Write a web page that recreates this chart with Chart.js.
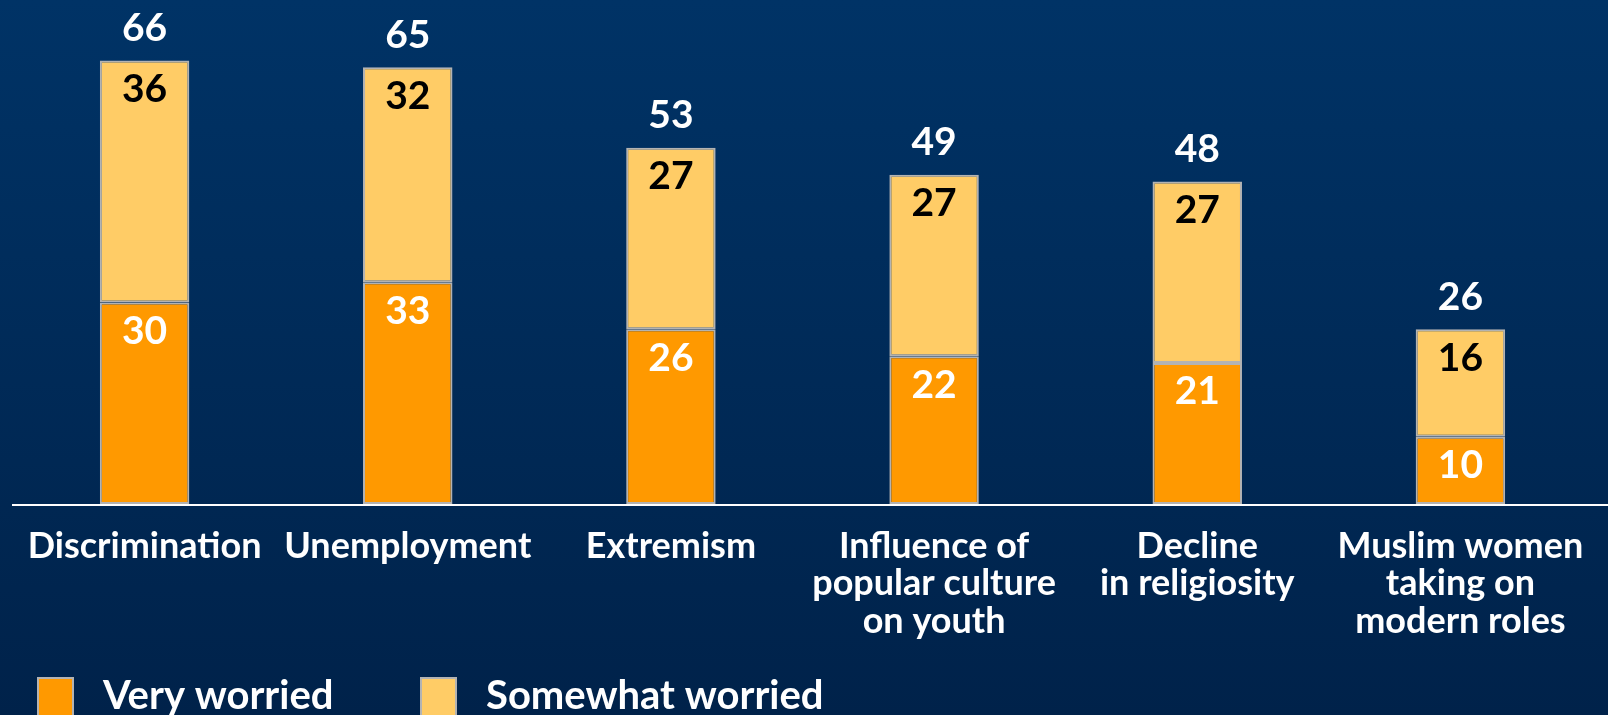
<!DOCTYPE html>
<html>
<head>
<meta charset="utf-8">
<script src="https://cdn.jsdelivr.net/npm/chart.js@4.4.0/dist/chart.umd.min.js"></script>
<style>
  html, body { margin: 0; padding: 0; overflow: hidden; }
  body { width: 1608px; height: 715px; background: linear-gradient(#003366, #00224a); }
</style>
</head>
<body>
<canvas id="myChart" width="1608" height="715"></canvas>
<script>
const categories = [
  ['Discrimination'],
  ['Unemployment'],
  ['Extremism'],
  ['Influence of', 'popular culture', 'on youth'],
  ['Decline', 'in religiosity'],
  ['Muslim women', 'taking on', 'modern roles'],
];
const veryWorried = [30, 33, 26, 22, 21, 10];
const somewhatWorried = [36, 32, 27, 27, 27, 16];
const totals = [66, 65, 53, 49, 48, 26];
const seriesNames = ['Very worried', 'Somewhat worried'];
const seriesColors = ['#ff9900', '#ffcc66'];

const FONT = 'Lato, "Open Sans", sans-serif';

// numbers inside the bars, totals on top, axis line and legend
const extras = {
  id: 'extras',
  afterDatasetsDraw(chart) {
    const ctx = chart.ctx;
    const ys = chart.scales.y;
    ctx.save();
    ctx.strokeStyle = '#ffffff';
    ctx.lineWidth = 2;
    ctx.beginPath();
    ctx.moveTo(12, chart.chartArea.bottom + 1);
    ctx.lineTo(chart.width, chart.chartArea.bottom + 1);
    ctx.stroke();

    ctx.font = 'bold 39px ' + FONT;
    ctx.textAlign = 'center';
    ctx.textBaseline = 'middle';
    chart.data.datasets.forEach((ds, di) => {
      chart.getDatasetMeta(di).data.forEach((bar, i) => {
        ctx.fillStyle = di === 0 ? '#ffffff' : '#000000';
        ctx.fillText(ds.data[i], bar.x, bar.y + 29);
      });
    });
    ctx.fillStyle = '#ffffff';
    totals.forEach((t, i) => {
      const bar = chart.getDatasetMeta(1).data[i];
      ctx.fillText(t, bar.x, ys.getPixelForValue(t) - 32);
    });

    // legend
    const boxX = [37, 420];
    ctx.font = 'bold 40px ' + FONT;
    ctx.textAlign = 'left';
    seriesNames.forEach((name, i) => {
      ctx.fillStyle = seriesColors[i];
      ctx.fillRect(boxX[i], 677, 37, 40);
      ctx.strokeStyle = '#b3b3b3';
      ctx.lineWidth = 2;
      ctx.strokeRect(boxX[i] + 1, 678, 35, 40);
      ctx.fillStyle = '#ffffff';
      ctx.fillText(name, boxX[i] + 66, 696);
    });
    ctx.restore();
  },
};

const data = {
  labels: categories,
  datasets: [
    {
      label: seriesNames[0],
      data: veryWorried,
      backgroundColor: seriesColors[0],
      borderColor: '#b3b3b3',
      borderWidth: 2,
      borderSkipped: false,
    },
    {
      label: seriesNames[1],
      data: somewhatWorried,
      backgroundColor: seriesColors[1],
      borderColor: '#b3b3b3',
      borderWidth: 2,
      borderSkipped: false,
    },
  ],
};

const config = {
  type: 'bar',
  data: data,
  options: {
    responsive: false,
    animation: false,
    barPercentage: 0.34,
    categoryPercentage: 1,
    layout: { padding: { left: 13, right: 16, top: 0, bottom: 0 } },
    plugins: {
      legend: { display: false },
      tooltip: { enabled: false },
    },
    scales: {
      x: {
        stacked: true,
        grid: { display: false },
        border: { display: false },
        ticks: {
          color: '#ffffff',
          font: { family: FONT, weight: 'bold', size: 36, lineHeight: 1.05 },
          padding: 15,
          maxRotation: 0,
          autoSkip: false,
        },
        afterFit: (scale) => { scale.height = 211; },
      },
      y: { stacked: true, display: false, min: 0, max: 75 },
    },
  },
  plugins: [extras],
};

const myChart = new Chart(document.getElementById('myChart'), config);
</script>
</body>
</html>
